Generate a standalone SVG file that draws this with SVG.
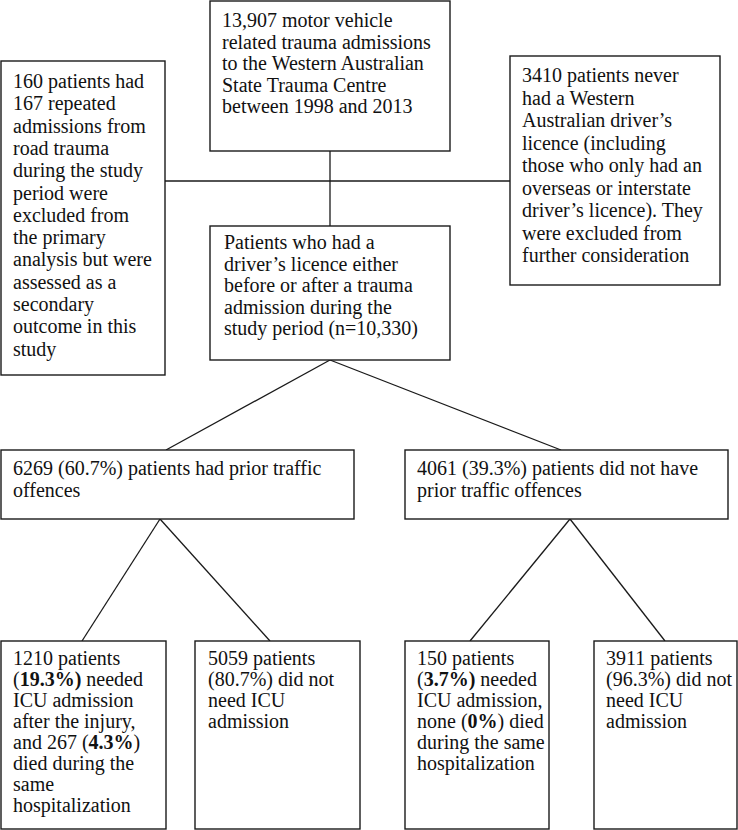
<svg xmlns="http://www.w3.org/2000/svg" width="738" height="830" viewBox="0 0 738 830">
<style>
.box{fill:#fff;stroke:#1a1a1a;stroke-width:1.4}
.t{font-family:"Liberation Serif","Times New Roman",serif;font-size:20px;fill:#111}
.b{font-weight:bold}
.c{stroke:#1a1a1a;stroke-width:1.3;fill:none}
</style>
<rect width="738" height="830" fill="#fff"/>
<g id="connectors">
<line class="c" x1="330" y1="151" x2="330" y2="226"/>
<line class="c" x1="165" y1="181" x2="510" y2="181"/>
<line class="c" x1="330" y1="360" x2="166" y2="450"/>
<line class="c" x1="330" y1="360" x2="561" y2="450"/>
<line class="c" x1="160" y1="519" x2="82" y2="641"/>
<line class="c" x1="160" y1="519" x2="270" y2="641"/>
<line class="c" x1="570" y1="519" x2="470" y2="641"/>
<line class="c" x1="570" y1="519" x2="665" y2="641"/>
</g>
<g id="top">
<rect class="box" x="210" y="1" width="240" height="150"/>
<text class="t" x="222" y="27">
<tspan x="222" y="27">13,907 motor vehicle</tspan>
<tspan x="222" y="48.5">related trauma admissions</tspan>
<tspan x="222" y="70">to the Western Australian</tspan>
<tspan x="222" y="91.5">State Trauma Centre</tspan>
<tspan x="222" y="113">between 1998 and 2013</tspan>
</text>
</g>
<g id="left">
<rect class="box" x="1" y="61" width="164" height="314"/>
<text class="t">
<tspan x="13" y="88">160 patients had</tspan>
<tspan x="13" y="110.3">167 repeated</tspan>
<tspan x="13" y="132.6">admissions from</tspan>
<tspan x="13" y="154.9">road trauma</tspan>
<tspan x="13" y="177.2">during the study</tspan>
<tspan x="13" y="199.5">period were</tspan>
<tspan x="13" y="221.8">excluded from</tspan>
<tspan x="13" y="244.1">the primary</tspan>
<tspan x="13" y="266.4">analysis but were</tspan>
<tspan x="13" y="288.7">assessed as a</tspan>
<tspan x="13" y="311">secondary</tspan>
<tspan x="13" y="333.3">outcome in this</tspan>
<tspan x="13" y="355.6">study</tspan>
</text>
</g>
<g id="right">
<rect class="box" x="510" y="56" width="210" height="229"/>
<text class="t">
<tspan x="522" y="82">3410 patients never</tspan>
<tspan x="522" y="104.5">had a Western</tspan>
<tspan x="522" y="127">Australian driver’s</tspan>
<tspan x="522" y="149.5">licence (including</tspan>
<tspan x="522" y="172">those who only had an</tspan>
<tspan x="522" y="194.5">overseas or interstate</tspan>
<tspan x="522" y="217">driver’s licence). They</tspan>
<tspan x="522" y="239.5">were excluded from</tspan>
<tspan x="522" y="262">further consideration</tspan>
</text>
</g>
<g id="middle">
<rect class="box" x="210" y="226" width="240" height="134"/>
<text class="t">
<tspan x="224" y="249">Patients who had a</tspan>
<tspan x="224" y="270.5">driver’s licence either</tspan>
<tspan x="224" y="292">before or after a trauma</tspan>
<tspan x="224" y="313.5">admission during the</tspan>
<tspan x="224" y="335">study period (n=10,330)</tspan>
</text>
</g>
<g id="prior">
<rect class="box" x="1" y="450" width="353" height="69"/>
<text class="t">
<tspan x="13" y="475">6269 (60.7%) patients had prior traffic</tspan>
<tspan x="13" y="497">offences</tspan>
</text>
</g>
<g id="noprior">
<rect class="box" x="405" y="450" width="323" height="69"/>
<text class="t">
<tspan x="417" y="475">4061 (39.3%) patients did not have</tspan>
<tspan x="417" y="497">prior traffic offences</tspan>
</text>
</g>
<g id="icu1">
<rect class="box" x="1" y="641" width="165" height="188"/>
<text class="t">
<tspan x="13" y="665">1210 patients</tspan>
<tspan x="13" y="686">(<tspan class="b">19.3%)</tspan> needed</tspan>
<tspan x="13" y="707">ICU admission</tspan>
<tspan x="13" y="728">after the injury,</tspan>
<tspan x="13" y="749">and 267 (<tspan class="b">4.3%</tspan>)</tspan>
<tspan x="13" y="770">died during the</tspan>
<tspan x="13" y="791">same</tspan>
<tspan x="13" y="812">hospitalization</tspan>
</text>
</g>
<g id="noicu1">
<rect class="box" x="195" y="641" width="165" height="188"/>
<text class="t">
<tspan x="208" y="665">5059 patients</tspan>
<tspan x="208" y="686">(80.7%) did not</tspan>
<tspan x="208" y="707">need ICU</tspan>
<tspan x="208" y="728">admission</tspan>
</text>
</g>
<g id="icu2">
<rect class="box" x="405" y="641" width="144" height="188"/>
<text class="t">
<tspan x="417" y="665">150 patients</tspan>
<tspan x="417" y="686">(<tspan class="b">3.7%)</tspan> needed</tspan>
<tspan x="417" y="707">ICU admission,</tspan>
<tspan x="417" y="728">none (<tspan class="b">0%</tspan>) died</tspan>
<tspan x="417" y="749">during the same</tspan>
<tspan x="417" y="770">hospitalization</tspan>
</text>
</g>
<g id="noicu2">
<rect class="box" x="594" y="641" width="143" height="188"/>
<text class="t">
<tspan x="606" y="665">3911 patients</tspan>
<tspan x="606" y="686">(96.3%) did not</tspan>
<tspan x="606" y="707">need ICU</tspan>
<tspan x="606" y="728">admission</tspan>
</text>
</g>
</svg>
